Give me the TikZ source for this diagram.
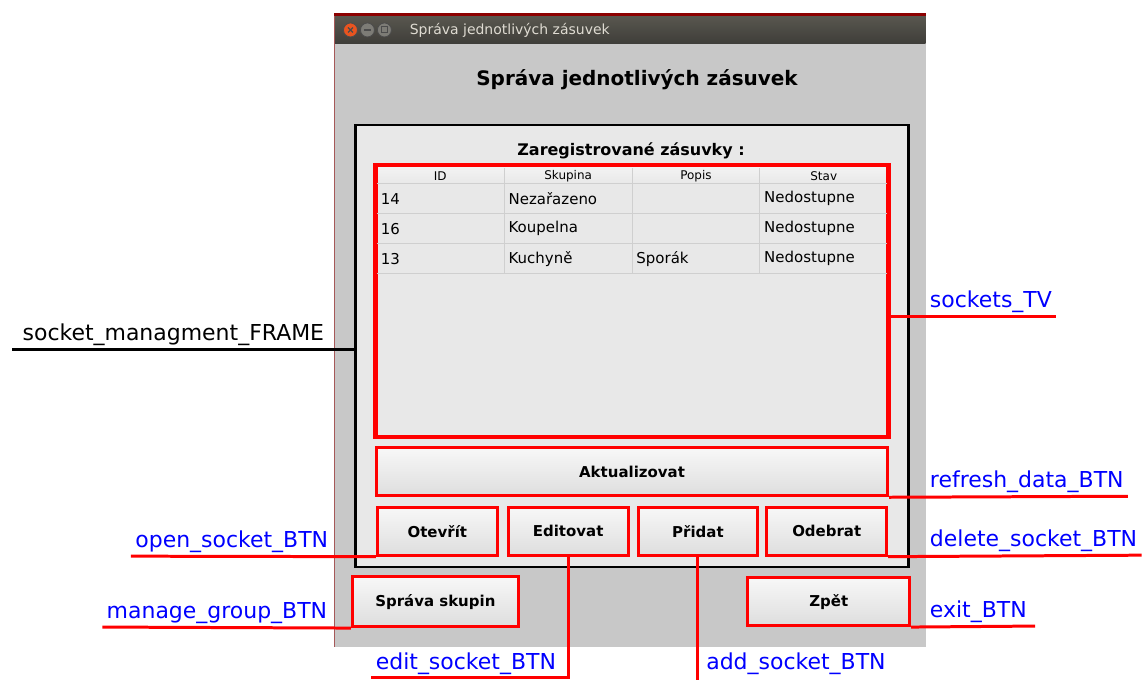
\documentclass[tikz,border=0pt]{standalone}
\usepackage{fontspec}
\setmainfont{DejaVu Sans}
\usetikzlibrary{positioning}

\definecolor{winbg}{HTML}{C8C8C8}
\definecolor{panelbg}{HTML}{E8E8E8}
\definecolor{bartop}{HTML}{59574F}
\definecolor{barbottom}{HTML}{3E3D39}
\definecolor{bartext}{HTML}{DFDBD2}
\definecolor{gridgray}{HTML}{CFCFCF}
\definecolor{closeorange}{HTML}{E9541F}
\definecolor{ctrlgray}{HTML}{7D7C76}

\tikzset{
    widget/.style={draw=red, line width=1.5pt, inner sep=0pt},
    btn/.style={widget, top color=white!97!black, bottom color=black!13,
        font=\bfseries\fontsize{7.5}{9}\selectfont,
        minimum width=60pt, minimum height=24pt},
    lbl/.style={text=blue, font=\fontsize{11}{13}\selectfont,
        inner xsep=2pt, inner ysep=1.5pt},
    leader/.style={draw=red, line width=1.5pt},
    cell/.style={font=\fontsize{7.5}{9}\selectfont, anchor=west, inner sep=0pt},
    colhead/.style={font=\fontsize{6}{7}\selectfont, inner sep=0pt},
    ctrl/.style={circle, inner sep=0pt, minimum size=7pt, draw=black!70, line width=0.4pt},
}

\begin{document}
\begin{tikzpicture}[x=0.5pt, y=-0.5pt]
    \fill[white] (0,0) rectangle (1143,680);

    % window
    \fill[winbg] (335,44) rectangle (927,648);
    \shade[top color=bartop, bottom color=barbottom] (335,16) rectangle (927,44);
    \fill[red!55!black] (335,13) rectangle (927,16);
    \draw[red!30!gray, line width=0.5pt] (335.5,16) -- (335.5,648);

    \node[ctrl, fill=closeorange] (close_BTN) at (351,30) {};
    \node[ctrl, fill=ctrlgray] (min_BTN) at (368,30) {};
    \node[ctrl, fill=ctrlgray] (max_BTN) at (385,30) {};
    \draw[black!70, line width=0.6pt] (close_BTN.center) ++(-2.5,-2.5) -- ++(5,5) ++(0,-5) -- ++(-5,5);
    \draw[black!70, line width=0.6pt] (min_BTN.center) ++(-3.5,0) -- ++(7,0);
    \draw[black!70, line width=0.5pt] (max_BTN.center) ++(-3,-3) rectangle ++(6,6);
    \node[anchor=west, text=bartext, font=\fontsize{7}{8}\selectfont, inner sep=0pt] (win_title) at (410,30) {Správa jednotlivých zásuvek};

    \node[font=\bfseries\fontsize{10}{12}\selectfont] (heading) at (638,80) {Správa jednotlivých zásuvek};

    % frame and table
    \node[draw=black, line width=1.25pt, fill=panelbg, inner sep=0pt,
        minimum width=277pt, minimum height=221.5pt] (frame) at (633,346.5) {};
    \node[font=\bfseries\fontsize{8}{10}\selectfont] (caption) at (632,151) {Zaregistrované zásuvky :};

    \node[widget, fill=panelbg, minimum width=256pt, minimum height=135.5pt] (tv) at (633,301.5) {};
    \shade[top color=white!95!black, bottom color=black!9] (379,168) rectangle (887,184);
    \draw[gridgray, line width=0.5pt] (378,184) -- (888,184) (378,214) -- (888,214)
        (378,244) -- (888,244) (378,274) -- (888,274)
        (505,168) -- (505,274) (633,168) -- (633,274) (761,168) -- (761,274);
    \draw[widget, fill=none] (tv.north west) rectangle (tv.south east);

    \node[colhead] (h_id) at (441,176) {ID};
    \node[colhead] (h_group) at (569,176) {Skupina};
    \node[colhead] (h_desc) at (697,176) {Popis};
    \node[colhead] (h_state) at (825,176) {Stav};

    \node[cell] (r1_id) at (381,199) {14};
    \node[cell] (r1_group) at (509,199) {Nezařazeno};
    \node[cell] (r1_state) at (765,199) {Nedostupne};
    \node[cell] (r2_id) at (381,229) {16};
    \node[cell] (r2_group) at (509,229) {Koupelna};
    \node[cell] (r2_state) at (765,229) {Nedostupne};
    \node[cell] (r3_id) at (381,259) {13};
    \node[cell] (r3_group) at (509,259) {Kuchyně};
    \node[cell] (r3_desc) at (637,259) {Sporák};
    \node[cell] (r3_state) at (765,259) {Nedostupne};

    % buttons
    \node[btn, minimum width=256pt] (refresh) at (633,472.5) {Aktualizovat};
    \node[btn] (open) at (438,532) {Otevřít};
    \node[btn] (edit) at (569,532) {Editovat};
    \node[btn] (add) at (699,532) {Přidat};
    \node[btn] (delete) at (828,532) {Odebrat};
    \node[btn, minimum width=83pt, minimum height=25pt] (group) at (436,602.5) {Správa skupin};
    \node[btn, minimum width=81pt] (exit) at (830,602.5) {Zpět};

    % labels
    \node[lbl, text=black, inner xsep=5pt, anchor=south east] (frame_lbl) at (335,350) {socket\_managment\_FRAME};
    \node[lbl, anchor=south east] (open_lbl) at (333,557) {open\_socket\_BTN};
    \node[lbl, anchor=south east] (group_lbl) at (332,628) {manage\_group\_BTN};
    \node[lbl, anchor=south west] (tv_lbl) at (927,317) {sockets\_TV};
    \node[lbl, anchor=south west] (refresh_lbl) at (927,497) {refresh\_data\_BTN};
    \node[lbl, anchor=south west] (delete_lbl) at (927,556) {delete\_socket\_BTN};
    \node[lbl, inner xsep=4pt, anchor=south west] (exit_lbl) at (923,627) {exit\_BTN};
    \node[lbl, anchor=south west] (edit_lbl) at (372,679) {edit\_socket\_BTN};
    \node[lbl, anchor=south west] (add_lbl) at (703,679) {add\_socket\_BTN};

    \draw[black, line width=1.5pt] (frame_lbl.south west) -- (frame_lbl.south west -| frame.west);
    \draw[leader] (open.south west) -- (open_lbl.south west);
    \draw[leader] (group.south west) -- (group_lbl.south west);
    \draw[leader] (tv.east |- tv_lbl.south) -- (tv_lbl.south east);
    \draw[leader] (refresh.south east) -- (refresh_lbl.south east);
    \draw[leader] (delete.south east) -- (delete_lbl.south east);
    \draw[leader] (exit.south east) -- (exit_lbl.south east);
    \draw[leader] (edit.south) -- (edit.south |- edit_lbl.south) -- (edit_lbl.south west);
    \draw[leader] (add.south) -- (add.south |- add_lbl.south) -- ++(0,2);
\end{tikzpicture}
\end{document}
